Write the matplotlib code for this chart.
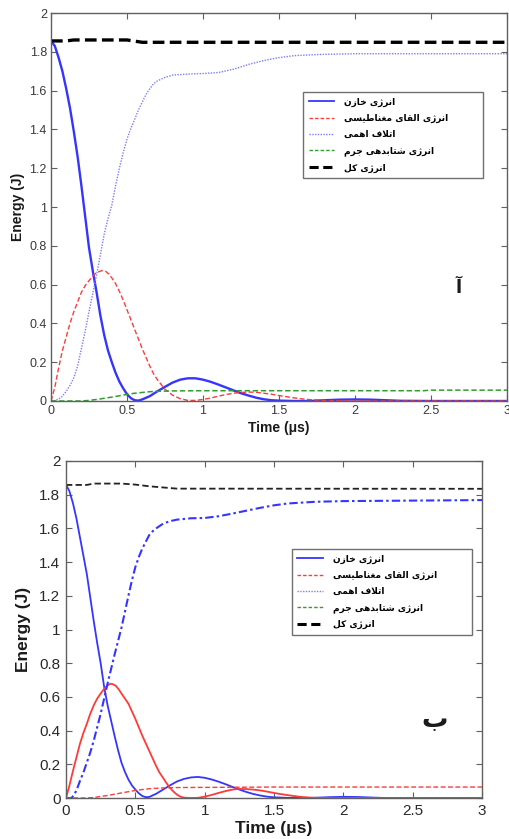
import matplotlib
matplotlib.use("Agg")
import matplotlib.pyplot as plt
from matplotlib.lines import Line2D
from matplotlib.ticker import FuncFormatter

# ---------------- data: panel A (top) ----------------
t_cap_a = [0, 0.025, 0.05, 0.075, 0.1, 0.125, 0.15, 0.175, 0.2, 0.225, 0.25, 0.275, 0.3, 0.325,
           0.35, 0.375, 0.4, 0.425, 0.45, 0.475, 0.5, 0.525, 0.55, 0.575, 0.6, 0.65, 0.7, 0.75,
           0.8, 0.85, 0.9, 0.95, 1.0, 1.05, 1.1, 1.15, 1.2, 1.25, 1.3, 1.35, 1.4, 1.45, 1.5, 1.6,
           1.7, 1.8, 1.9, 2.0, 2.1, 2.2, 2.3, 2.5, 3.0]
cap_a = [1.855, 1.83, 1.77, 1.70, 1.61, 1.51, 1.39, 1.26, 1.11, 0.95, 0.79, 0.67, 0.56, 0.44,
         0.34, 0.26, 0.20, 0.145, 0.10, 0.065, 0.035, 0.015, 0.004, 0.002, 0.008, 0.025, 0.05,
         0.073, 0.095, 0.11, 0.117, 0.117, 0.11, 0.099, 0.085, 0.07, 0.055, 0.04, 0.028, 0.017,
         0.009, 0.004, 0.002, 0.0, 0.0, 0.004, 0.007, 0.008, 0.007, 0.004, 0.001, 0.0, 0.0]

t_ind_a = [0, 0.025, 0.05, 0.075, 0.1, 0.125, 0.15, 0.175, 0.2, 0.225, 0.25, 0.275, 0.3, 0.333,
           0.36, 0.38, 0.4, 0.425, 0.45, 0.475, 0.5, 0.525, 0.55, 0.575, 0.6, 0.625, 0.65, 0.675,
           0.7, 0.75, 0.8, 0.85, 0.9, 0.95, 1.0, 1.05, 1.1, 1.15, 1.2, 1.25, 1.3, 1.35, 1.4, 1.45,
           1.5, 1.55, 1.6, 1.65, 1.7, 1.8, 1.9, 2.0, 3.0]
ind_a = [0, 0.07, 0.17, 0.26, 0.33, 0.40, 0.46, 0.51, 0.56, 0.595, 0.62, 0.645, 0.662, 0.672,
         0.668, 0.655, 0.635, 0.605, 0.565, 0.52, 0.47, 0.42, 0.37, 0.32, 0.27, 0.225, 0.18, 0.14,
         0.11, 0.06, 0.03, 0.012, 0.003, 0.003, 0.008, 0.015, 0.025, 0.033, 0.04, 0.044, 0.046,
         0.045, 0.04, 0.035, 0.028, 0.022, 0.016, 0.011, 0.007, 0.003, 0.001, 0.0, 0.0]

t_ohm_a = [0, 0.025, 0.05, 0.075, 0.1, 0.125, 0.15, 0.175, 0.2, 0.225, 0.25, 0.275, 0.3, 0.325,
           0.35, 0.375, 0.4, 0.425, 0.45, 0.475, 0.5, 0.525, 0.55, 0.575, 0.6, 0.625, 0.65, 0.675,
           0.7, 0.75, 0.8, 0.9, 1.0, 1.1, 1.2, 1.3, 1.4, 1.5, 1.6, 1.7, 1.8, 2.0, 2.5, 3.0]
ohm_a = [0, 0.002, 0.01, 0.025, 0.05, 0.08, 0.12, 0.18, 0.27, 0.36, 0.46, 0.555, 0.65, 0.755,
         0.86, 0.94, 1.01, 1.11, 1.2, 1.28, 1.35, 1.405, 1.45, 1.50, 1.54, 1.58, 1.61, 1.635,
         1.65, 1.668, 1.68, 1.685, 1.688, 1.693, 1.71, 1.735, 1.755, 1.77, 1.78, 1.784, 1.787,
         1.79, 1.79, 1.79]

t_mass_a = [0, 0.2, 0.25, 0.3, 0.35, 0.4, 0.45, 0.5, 0.55, 0.6, 0.65, 0.7, 0.8, 1.0, 1.5, 2.0,
            2.45, 2.5, 3.0]
mass_a = [0, 0.0, 0.003, 0.008, 0.014, 0.02, 0.027, 0.034, 0.04, 0.044, 0.048, 0.05, 0.052,
          0.053, 0.053, 0.053, 0.053, 0.056, 0.056]

t_tot_a = [0, 0.1, 0.15, 0.5, 0.6, 3.0]
tot_a = [1.856, 1.856, 1.861, 1.861, 1.849, 1.849]

# ---------------- data: panel B (bottom) ----------------
t_cap_b = [0, 0.025, 0.05, 0.075, 0.1, 0.125, 0.15, 0.175, 0.2, 0.225, 0.25, 0.275, 0.3, 0.325,
           0.35, 0.375, 0.4, 0.425, 0.45, 0.475, 0.5, 0.525, 0.55, 0.575, 0.6, 0.65, 0.7, 0.75,
           0.8, 0.85, 0.9, 0.95, 1.0, 1.05, 1.1, 1.15, 1.2, 1.25, 1.3, 1.35, 1.4, 1.45, 1.5, 1.6,
           1.75, 1.9, 2.0, 2.1, 2.2, 2.3, 3.0]
cap_b = [1.86, 1.82, 1.75, 1.66, 1.55, 1.44, 1.33, 1.19, 1.05, 0.92, 0.8, 0.66, 0.55, 0.46,
         0.37, 0.285, 0.21, 0.155, 0.11, 0.075, 0.05, 0.028, 0.012, 0.005, 0.006, 0.025, 0.05,
         0.075, 0.098, 0.113, 0.122, 0.125, 0.12, 0.11, 0.097, 0.082, 0.066, 0.05, 0.036, 0.024,
         0.015, 0.008, 0.004, 0.001, 0.0, 0.005, 0.007, 0.006, 0.003, 0.0, 0.0]

t_ind_b = [0, 0.025, 0.05, 0.075, 0.1, 0.125, 0.15, 0.175, 0.2, 0.225, 0.25, 0.275, 0.3, 0.32,
           0.34, 0.36, 0.38, 0.4, 0.425, 0.45, 0.475, 0.5, 0.525, 0.55, 0.575, 0.6, 0.625, 0.65,
           0.675, 0.7, 0.725, 0.75, 0.775, 0.8, 0.825, 0.85, 0.9, 0.95, 1.0, 1.05, 1.1, 1.15, 1.2,
           1.25, 1.3, 1.35, 1.4, 1.45, 1.5, 1.55, 1.6, 1.65, 1.7, 1.75, 1.8, 1.9, 3.0]
ind_b = [0, 0.075, 0.16, 0.24, 0.32, 0.385, 0.44, 0.5, 0.55, 0.59, 0.62, 0.648, 0.668, 0.678,
         0.675, 0.665, 0.645, 0.62, 0.59, 0.56, 0.515, 0.47, 0.42, 0.37, 0.325, 0.28, 0.235, 0.19,
         0.15, 0.12, 0.088, 0.06, 0.038, 0.02, 0.008, 0.002, 0.0, 0.001, 0.008, 0.018, 0.03,
         0.041, 0.05, 0.054, 0.053, 0.05, 0.045, 0.038, 0.03, 0.023, 0.017, 0.011, 0.006, 0.003,
         0.001, 0.0, 0.0]

t_ohm_b = [0, 0.04, 0.06, 0.08, 0.1, 0.125, 0.15, 0.175, 0.2, 0.225, 0.25, 0.275, 0.3, 0.325,
           0.35, 0.375, 0.4, 0.425, 0.45, 0.475, 0.5, 0.525, 0.55, 0.575, 0.6, 0.625, 0.65, 0.7,
           0.75, 0.8, 0.9, 1.0, 1.1, 1.2, 1.3, 1.4, 1.5, 1.6, 1.8, 2.0, 2.5, 3.0]
ohm_b = [0, 0, 0.02, 0.055, 0.1, 0.15, 0.21, 0.27, 0.34, 0.42, 0.5, 0.59, 0.68, 0.765, 0.85,
         0.93, 1.01, 1.105, 1.2, 1.29, 1.37, 1.43, 1.48, 1.52, 1.56, 1.583, 1.6, 1.628, 1.643,
         1.652, 1.66, 1.662, 1.672, 1.688, 1.705, 1.722, 1.737, 1.748, 1.758, 1.762, 1.765, 1.768]

t_mass_b = [0, 0.15, 0.2, 0.3, 0.4, 0.5, 0.6, 0.7, 0.8, 1.0, 1.5, 2.0, 3.0]
mass_b = [0, 0, 0.003, 0.015, 0.03, 0.045, 0.055, 0.06, 0.062, 0.063, 0.065, 0.065, 0.065]

t_tot_b = [0, 0.15, 0.2, 0.4, 0.5, 0.6, 0.7, 0.8, 3.0]
tot_b = [1.858, 1.858, 1.866, 1.866, 1.86, 1.85, 1.843, 1.836, 1.835]

# ---------------- text ----------------
legend_labels = ["انرژی خازن", "انرژی القای مغناطیسی", "اتلاف اهمی",
                 "انرژی شتابدهی جرم", "انرژی کل"]
panel_labels = ["آ", "ب"]
xlabel_text = "Time (μs)"
ylabel_text = "Energy (J)"
xticks = [0, 0.5, 1, 1.5, 2, 2.5, 3]
yticks = [0, 0.2, 0.4, 0.6, 0.8, 1, 1.2, 1.4, 1.6, 1.8, 2]

# ---------------- simple Persian shaping (matplotlib has no bidi/shaping) ----------------
FORMS = {
    'ا': (0xFE8D, 0xFE8E, None, None),
    'ب': (0xFE8F, 0xFE90, 0xFE91, 0xFE92),
    'ت': (0xFE95, 0xFE96, 0xFE97, 0xFE98),
    'ج': (0xFE9D, 0xFE9E, 0xFE9F, 0xFEA0),
    'خ': (0xFEA5, 0xFEA6, 0xFEA7, 0xFEA8),
    'د': (0xFEA9, 0xFEAA, None, None),
    'ر': (0xFEAD, 0xFEAE, None, None),
    'ز': (0xFEAF, 0xFEB0, None, None),
    'ژ': (0xFB8A, 0xFB8B, None, None),
    'س': (0xFEB1, 0xFEB2, 0xFEB3, 0xFEB4),
    'ش': (0xFEB5, 0xFEB6, 0xFEB7, 0xFEB8),
    'ط': (0xFEC1, 0xFEC2, 0xFEC3, 0xFEC4),
    'غ': (0xFECD, 0xFECE, 0xFECF, 0xFED0),
    'ف': (0xFED1, 0xFED2, 0xFED3, 0xFED4),
    'ق': (0xFED5, 0xFED6, 0xFED7, 0xFED8),
    'ل': (0xFEDD, 0xFEDE, 0xFEDF, 0xFEE0),
    'م': (0xFEE1, 0xFEE2, 0xFEE3, 0xFEE4),
    'ن': (0xFEE5, 0xFEE6, 0xFEE7, 0xFEE8),
    'ه': (0xFEE9, 0xFEEA, 0xFEEB, 0xFEEC),
    '\u06CC': (0xFBFC, 0xFBFD, 0xFBFE, 0xFBFF),
    '\u06A9': (0xFB8E, 0xFB8F, 0xFB90, 0xFB91),
}


def shape(text):
    text = text.replace('\u064A', '\u06CC').replace('\u0643', '\u06A9')
    ch = list(text)
    n = len(ch)
    out = []
    i = 0
    while i < n:
        c = ch[i]
        if c not in FORMS:
            out.append(c)
            i += 1
            continue
        prev = ch[i - 1] if i > 0 else None
        jp = prev in FORMS and FORMS[prev][2] is not None
        if c == 'ل' and i + 1 < n and ch[i + 1] == 'ا':
            out.append(chr(0xFEFC if jp else 0xFEFB))
            i += 2
            continue
        nxt = ch[i + 1] if i + 1 < n else None
        jn = FORMS[c][2] is not None and nxt in FORMS
        iso, fin, ini, med = FORMS[c]
        if jp and jn:
            f = med
        elif jp:
            f = fin
        elif jn:
            f = ini
        else:
            f = iso
        out.append(chr(f))
        i += 1
    return ''.join(reversed(out))


plt.rcParams['font.family'] = ['Liberation Sans', 'DejaVu Sans']

BLUE = '#3535ff'
LBLUE = '#7c7cff'
RED = '#ff3a3a'
GREEN = '#2e9e2e'
SPINE = '#606060'

fig = plt.figure(figsize=(5.1, 8.39), dpi=100)
W, H = 510, 839
ax1 = fig.add_axes([51 / W, 1 - 401 / H, 456 / W, 388 / H])
ax2 = fig.add_axes([66 / W, 1 - 798 / H, 416 / W, 337 / H])

fmt = FuncFormatter(lambda v, p: f'{v:g}')

# ---- panel A ----
ax1.plot(t_cap_a, cap_a, color=BLUE, lw=1.7, ls='-')
ax1.plot(t_ind_a, ind_a, color=RED, lw=1.0, ls=(0, (3.5, 1.8)))
ax1.plot(t_ohm_a, ohm_a, color=LBLUE, lw=1.0, ls=(0, (1, 1)))
ax1.plot(t_mass_a, mass_a, color=GREEN, lw=1.1, ls=(0, (3.5, 1.8)))
ax1.plot(t_tot_a, tot_a, color='black', lw=2.4, ls=(0, (3.5, 1.6)))

# ---- panel B ----
ax2.plot(t_cap_b, cap_b, color=BLUE, lw=1.3, ls='-')
ax2.plot(t_ind_b, ind_b, color=RED, lw=1.3, ls='-')
ax2.plot(t_ohm_b, ohm_b, color=BLUE, lw=1.5, ls=(0, (4, 1.5, 1.2, 1.5)))
ax2.plot(t_mass_b, mass_b, color=RED, lw=1.0, ls=(0, (3.5, 1.8)))
ax2.plot(t_tot_b, tot_b, color='#222222', lw=1.3, ls=(0, (3.5, 1.8)))

handles = [
    Line2D([], [], color=BLUE, lw=1.3, ls='-'),
    Line2D([], [], color=RED, lw=1.0, ls=(0, (2.5, 1.5))),
    Line2D([], [], color=LBLUE, lw=1.0, ls=(0, (1, 1))),
    Line2D([], [], color=GREEN, lw=1.0, ls=(0, (2.5, 1.5))),
    Line2D([], [], color='black', lw=2.2, ls=(0, (3, 1.5))),
]
shaped = [shape(s) for s in legend_labels]

for ax, tsize, lsize, tpad, xlpad, ylpad, tick_col, leg_box in [
    (ax1, 9, 10, 3.0, 2.5, 3.5, '#3a3a3a', (0.553, 0.57, 0.394, 0.226)),
    (ax2, 11, 12.5, 4.0, 2.5, 6.0, '#2a2a2a', (0.543, 0.478, 0.433, 0.261)),
]:
    ax.set_xlim(0, 3)
    ax.set_ylim(0, 2)
    ax.set_xticks(xticks)
    ax.set_yticks(yticks)
    ax.xaxis.set_major_formatter(fmt)
    ax.yaxis.set_major_formatter(fmt)
    ax.tick_params(direction='in', length=4, width=0.8, color=SPINE, top=True, right=True,
                   labelsize=tsize, labelcolor=tick_col, pad=tpad)
    for sp in ax.spines.values():
        sp.set_color(SPINE)
        sp.set_linewidth(1.0)
    ax.set_xlabel(xlabel_text, fontsize=lsize, fontweight='bold', labelpad=xlpad, color='#1a1a1a')
    ax.set_ylabel(ylabel_text, fontsize=lsize, fontweight='bold', labelpad=ylpad, color='#1a1a1a')
    leg = ax.legend(handles, shaped, loc='upper left', bbox_to_anchor=leg_box, mode='expand',
                    prop={'family': ['DejaVu Sans'], 'weight': 'bold', 'size': 6.5},
                    frameon=True, fancybox=False, edgecolor='#707070', framealpha=1,
                    handlelength=2.8, handletextpad=1.1, labelspacing=0.8,
                    borderpad=0.6, borderaxespad=0)
    leg.get_frame().set_linewidth(1.0)

ax1.text(2.68, 0.58, panel_labels[0], fontsize=13, fontweight='bold', family=['DejaVu Sans'],
         ha='center', va='center', color='#1a1a1a')
ax2.text(2.66, 0.46, panel_labels[1], fontsize=19, fontweight='bold', family=['DejaVu Sans'],
         ha='center', va='center', color='#1a1a1a')

fig.savefig('out.png', dpi=100)
